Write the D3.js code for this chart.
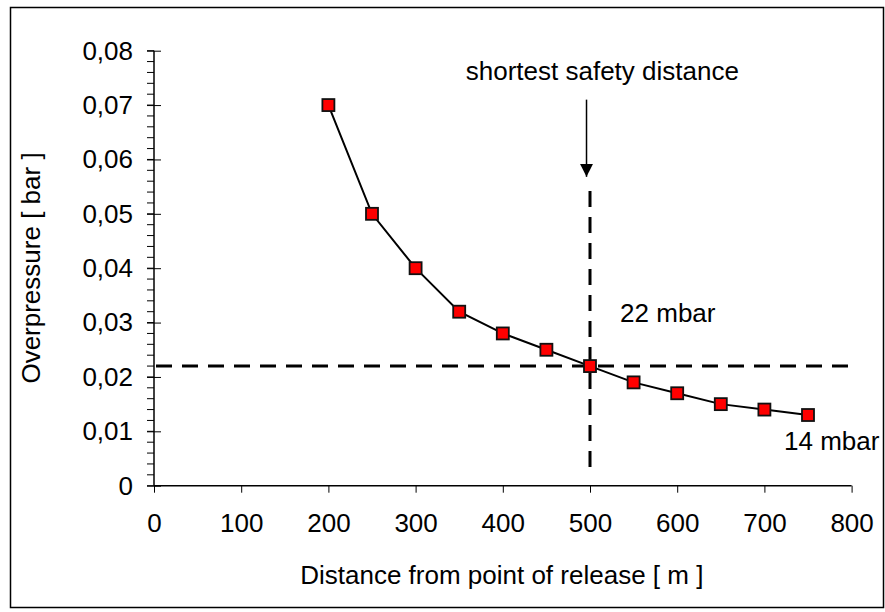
<!DOCTYPE html>
<html><head><meta charset="utf-8">
<script src="https://cdn.jsdelivr.net/npm/d3@7"></script>
<style>
body{margin:0;background:#fff;}
svg text{font-family:"Liberation Sans",Arial,sans-serif;fill:#000;}
</style></head>
<body><svg id="c" width="885" height="612"></svg>
<script>
const distances = [200,250,300,350,400,450,500,550,600,650,700,750];
const overpressure = [0.070,0.050,0.040,0.032,0.028,0.025,0.022,0.019,0.017,0.015,0.014,0.013];
const xTicks = [0,100,200,300,400,500,600,700,800];
const yTicks = [0,0.01,0.02,0.03,0.04,0.05,0.06,0.07,0.08];
const hRef = {y:0.022, x0:0, x1:807};
const vRef = {x:500, y0:0.002, y1:0.0542};
const arrow = {x:496, y0:0.0710, y1:0.0568};
const annotations = [
  {text:"shortest safety distance", x:357.5, y:0.0746},
  {text:"22 mbar", x:534.5, y:0.0301},
  {text:"14 mbar", x:722.5, y:0.0066}
];

const FS = "26px";
const svg = d3.select("#c");
svg.append("rect").attr("x",10.5).attr("y",7.5).attr("width",873).attr("height",600)
  .attr("fill","none").attr("stroke","#000").attr("stroke-width",1.5);

const L=154, T=50.7, W=697.6, H=435;
const x = d3.scaleLinear().domain([0,800]).range([L,L+W]);
const y = d3.scaleLinear().domain([0,0.08]).range([T+H,T]);

// minor y ticks
const minor = d3.range(0,0.0801,0.002);
svg.append("g").selectAll("line").data(minor).join("line")
  .attr("x1",L-7).attr("x2",L).attr("y1",d=>y(d)).attr("y2",d=>y(d))
  .attr("stroke","#000").attr("stroke-width",1);

const fmt = d=> d===0 ? "0" : d3.format(".2f")(d).replace(".",",");
const ya = svg.append("g").attr("transform",`translate(${L},0)`)
  .call(d3.axisLeft(y).tickValues(yTicks).tickFormat(fmt).tickSize(7).tickPadding(14));
ya.selectAll(".tick line").attr("x2",-7).attr("x1",7);
const xa = svg.append("g").attr("transform",`translate(0,${T+H})`)
  .call(d3.axisBottom(x).tickValues(xTicks).tickSize(7).tickPadding(21));
[ya,xa].forEach(a=>{
  a.select(".domain").attr("stroke","#000").attr("stroke-width",1.5);
  a.selectAll(".tick line").attr("stroke","#000").attr("stroke-width",1);
  a.selectAll("text").style("font-size",FS).attr("fill","#000");
});
xa.select(".domain").attr("d",`M${L},0H${L+W}`);
ya.select(".domain").attr("d",`M0,${T}V${T+H}`);

// reference dashed lines
svg.append("line").attr("x1",x(hRef.x0)).attr("x2",x(hRef.x1)).attr("y1",y(hRef.y)).attr("y2",y(hRef.y))
  .attr("stroke","#000").attr("stroke-width",3).attr("stroke-dasharray","16,10").attr("stroke-dashoffset",-2);
svg.append("line").attr("x1",x(vRef.x)).attr("x2",x(vRef.x)).attr("y1",y(vRef.y1)).attr("y2",y(vRef.y0))
  .attr("stroke","#000").attr("stroke-width",3).attr("stroke-dasharray","16,10");

// arrow
svg.append("defs").append("marker").attr("id","ah").attr("viewBox","0 0 10 10")
  .attr("refX",10).attr("refY",5).attr("markerWidth",13).attr("markerHeight",13)
  .attr("markerUnits","userSpaceOnUse").attr("orient","auto")
  .append("path").attr("d","M0,0L10,5L0,10Z").attr("fill","#000");
svg.append("line").attr("x1",x(arrow.x)).attr("x2",x(arrow.x)).attr("y1",y(arrow.y0)).attr("y2",y(arrow.y1))
  .attr("stroke","#000").attr("stroke-width",1.5).attr("marker-end","url(#ah)");

// series
const pts = distances.map((d,i)=>[d,overpressure[i]]);
svg.append("path").datum(pts).attr("fill","none").attr("stroke","#000").attr("stroke-width",2)
  .attr("d",d3.line().x(d=>x(d[0])).y(d=>y(d[1])));
svg.append("g").selectAll("rect").data(pts).join("rect")
  .attr("x",d=>x(d[0])-6).attr("y",d=>y(d[1])-6).attr("width",12).attr("height",12)
  .attr("fill","#ff0000").attr("stroke","#111").attr("stroke-width",1.8);

// annotations
svg.append("g").selectAll("text").data(annotations).join("text")
  .attr("x",d=>x(d.x)).attr("y",d=>y(d.y)).text(d=>d.text).style("font-size",FS);

// titles
svg.append("text").attr("x",x(400)-1).attr("y",584).attr("text-anchor","middle")
  .style("font-size",FS).text("Distance from point of release [ m ]");
svg.append("text").attr("transform","translate(40,268) rotate(-90)").attr("text-anchor","middle")
  .style("font-size",FS).text("Overpressure [ bar ]");
</script></body></html>
